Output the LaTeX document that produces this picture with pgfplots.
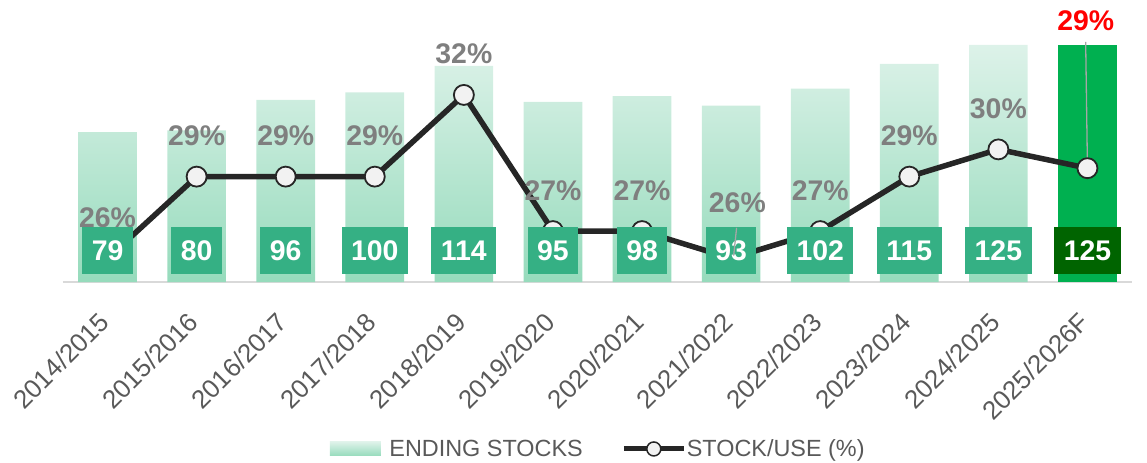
\documentclass[border=0pt]{standalone}
\usepackage{pgfplots}
\pgfplotsset{compat=1.18}
\usepackage{fontspec}
\setmainfont{Liberation Sans}
\definecolor{bartop}{HTML}{DDF2E9}
\definecolor{barbot}{HTML}{96DBBC}
\definecolor{boxg}{HTML}{35B084}
\definecolor{lastbar}{HTML}{00B050}
\definecolor{lastbox}{HTML}{006400}
\definecolor{linec}{HTML}{262626}
\definecolor{mfill}{HTML}{F2F2F2}
\definecolor{pctc}{HTML}{7F7F7F}
\definecolor{tickc}{HTML}{595959}
\definecolor{axc}{HTML}{D9D9D9}
\definecolor{leadc}{HTML}{A6A6A6}
\begin{document}
\begin{tikzpicture}
\path[use as bounding box] (-63bp,-181bp) rectangle (1084bp,282bp);
\begin{axis}[at={(0,0)}, anchor=south west, scale only axis,
  width=1069bp, height=244.8bp,
  xmin=-0.5, xmax=11.5, ymin=0, ymax=129.1,
  axis x line*=bottom, axis y line=none,
  x axis line style={draw=axc, line width=2bp},
  xtick={0,...,11},
  xticklabels={2014/2015,2015/2016,2016/2017,2017/2018,2018/2019,2019/2020,2020/2021,2021/2022,2022/2023,2023/2024,2024/2025,2025/2026F},
  major tick length=0pt, xtick style={draw=none},
  xticklabel style={rotate=45, anchor=north east, inner sep=0pt,
    font=\fontsize{26}{30}\selectfont, text=tickc, xshift=-27bp, yshift=-13bp},
  ytick=\empty, clip=false]
\addplot[ybar, bar width=58.7bp, draw=none, top color=bartop, bottom color=barbot]
  coordinates {(0,79) (1,80) (2,96) (3,100) (4,114) (5,95) (6,98) (7,93) (8,102) (9,115) (10,125)};
\addplot[ybar, bar width=58.7bp, draw=none, fill=lastbar]
  coordinates {(11,125)};
\end{axis}
\begin{axis}[at={(0,0)}, anchor=south west, scale only axis,
  width=1069bp, height=244.8bp,
  xmin=-0.5, xmax=11.5, ymin=25.13, ymax=34.12,
  axis lines=none, clip=false,
  legend columns=2,
  legend style={at={(0.5,-0.682)}, anchor=center, draw=none, fill=none,
    inner sep=0pt, font=\fontsize{23.5}{28}\selectfont, text=tickc,
    /tikz/every even column/.append style={column sep=38bp},
    nodes={inner sep=0.5bp}}]
\addlegendimage{legend image code/.code={\path[draw=none, top color=bartop, bottom color=barbot] (0bp,-7bp) rectangle (51bp,7bp); \path[draw=none] (59bp,0bp);}}
\addlegendentry{ENDING STOCKS}
\addplot[linec, line width=5.5bp, mark=*, mark size=10bp,
  mark options={fill=mfill, draw=linec, line width=1.8bp},
  legend image code/.code={\draw[linec, line width=5bp] (0bp,0bp) -- (60bp,0bp);
    \draw[fill=mfill, draw=linec, line width=1.5bp] (30bp,0bp) circle (7bp); \path[draw=none] (61bp,0bp);}]
  coordinates {(0,26) (1,29) (2,29) (3,29) (4,32) (5,27) (6,27) (7,26) (8,27) (9,29) (10,30) (11,29.31)};
\addlegendentry{STOCK/USE (\%)}
% percent labels
\addplot[draw=none, mark=none, forget plot, point meta=explicit symbolic,
  nodes near coords,
  every node near coord/.append style={font=\bfseries\fontsize{28.5}{30}\selectfont,
    text=pctc, anchor=base, yshift=31bp, inner sep=0pt}]
  coordinates {(0,26)[26\%] (1,29)[29\%] (2,29)[29\%] (3,29)[29\%] (4,32)[32\%] (5,27)[27\%] (6,27)[27\%] (8,27)[27\%] (9,29)[29\%] (10,30)[30\%]};
% value boxes
\addplot[draw=none, mark=none, forget plot, point meta=explicit symbolic,
  nodes near coords,
  every node near coord/.append style={anchor=center, fill=boxg, text=white,
    font=\bfseries\fontsize{28.5}{30}\selectfont, inner xsep=9.5bp, inner ysep=0pt,
    text height=20.5bp, text depth=0pt, minimum height=47bp}]
  coordinates {(0,26.29)[79] (1,26.29)[80] (2,26.29)[96] (3,26.29)[100] (4,26.29)[114] (5,26.29)[95] (6,26.29)[98] (7,26.29)[93] (8,26.29)[102] (9,26.29)[115] (10,26.29)[125]};
\addplot[draw=none, mark=none, forget plot, point meta=explicit symbolic,
  nodes near coords,
  every node near coord/.append style={anchor=center, fill=lastbox, text=white,
    font=\bfseries\fontsize{28.5}{30}\selectfont, inner xsep=9.5bp, inner ysep=0pt,
    text height=20.5bp, text depth=0pt, minimum height=47bp}]
  coordinates {(11,26.29)[125]};
% leader lines
\addplot[forget plot, leadc, line width=1.3bp, mark=none] coordinates {(11,29.31) (10.98,33.95)};
\addplot[forget plot, draw=none, mark=none, point meta=explicit symbolic,
  nodes near coords,
  every node near coord/.append style={anchor=center, inner sep=0pt, text=leadc, rotate=-6}]
  coordinates {(7.045,26.61)[\rule{1.3bp}{28bp}]};
% moved labels
\addplot[draw=none, mark=none, forget plot, point meta=explicit symbolic,
  nodes near coords,
  every node near coord/.append style={font=\bfseries\fontsize{28.5}{30}\selectfont,
    text=pctc, anchor=base, inner sep=0pt}]
  coordinates {(7.07,27.70)[26\%]};
\addplot[draw=none, mark=none, forget plot, point meta=explicit symbolic,
  nodes near coords,
  every node near coord/.append style={font=\bfseries\fontsize{28.5}{30}\selectfont,
    text=red, anchor=base, inner sep=0pt}]
  coordinates {(10.98,34.38)[29\%]};
\end{axis}
\end{tikzpicture}
\end{document}
